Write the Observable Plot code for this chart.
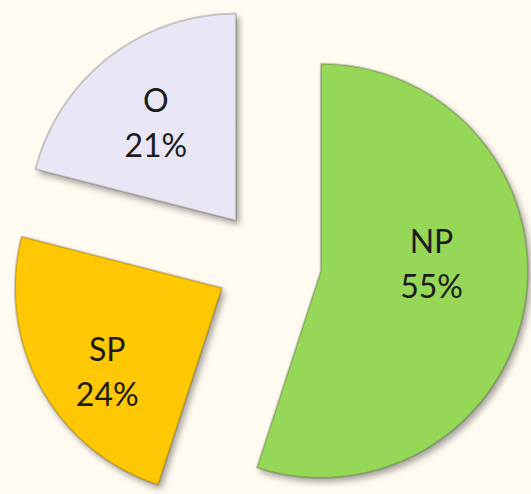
<!DOCTYPE html>
<html>
<head>
<meta charset="utf-8">
<script src="https://cdn.jsdelivr.net/npm/d3@7"></script>
<script src="https://cdn.jsdelivr.net/npm/@observablehq/plot@0.6"></script>
<style>
  html, body { margin: 0; padding: 0; background: #fffbf1; }
  #chart svg { display: block; }
</style>
</head>
<body>
<div id="chart"></div>
<script>
// Data
const categories = ["NP", "SP", "O"];
const values = [55, 24, 21];
const colors = ["#97d758", "#ffc803", "#e9e7f5"];

// Geometry constants (drawing parameters)
const R = 207;        // pie radius
const explode = 53;   // explode offset
const labelK = 0.6;   // label distance as fraction of R
// small label nudges (data units) to mimic the original label placement
const labelNudge = {NP: [-12, 29], SP: [-6, -21], O: [-4, 2]};

const total = d3.sum(values);
const toRad = Math.PI / 180;

// Build polygon vertices for each slice (angles clockwise from 12 o'clock)
const points = [];
const labels = [];
let start = 0;
categories.forEach((name, i) => {
  const span = values[i] / total * 360;
  const a0 = start, a1 = start + span;
  const mid = (a0 + a1) / 2;
  const ox = explode * Math.sin(mid * toRad);
  const oy = explode * Math.cos(mid * toRad);
  points.push({name, x: ox, y: oy});
  const steps = Math.ceil(span);
  for (let s = 0; s <= steps; s++) {
    const a = (a0 + (a1 - a0) * s / steps) * toRad;
    points.push({name, x: ox + R * Math.sin(a), y: oy + R * Math.cos(a)});
  }
  const [nx, ny] = labelNudge[name];
  labels.push({
    name,
    text: `${name}\n${values[i]}%`,
    x: ox + labelK * R * Math.sin(mid * toRad) + nx,
    y: oy + labelK * R * Math.cos(mid * toRad) + ny
  });
  start = a1;
});

const plot = Plot.plot({
  width: 531,
  height: 494,
  margin: 0,
  style: {background: "#fffbf1", overflow: "visible"},
  x: {domain: [-268, 263], range: [0, 531], axis: null},
  y: {domain: [-232, 262], range: [494, 0], axis: null},
  color: {domain: categories, range: colors},
  marks: [
    Plot.line(points, {
      x: "x", y: "y", z: "name", fill: "name",
      curve: "linear-closed",
      stroke: "#000", strokeOpacity: 0.18, strokeWidth: 2, strokeLinejoin: "round"
    }),
    Plot.text(labels, {
      x: "x", y: "y", text: "text",
      fontSize: 32, fontFamily: "Lato, 'Open Sans', sans-serif",
      lineHeight: 1.4, fill: "#1c1c1c"
    })
  ]
});

document.getElementById("chart").appendChild(plot);
plot.querySelectorAll('g[aria-label="line"]').forEach(g => {
  g.style.filter = "drop-shadow(3px 4px 3px rgba(0,0,0,0.35))";
});
</script>
</body>
</html>
